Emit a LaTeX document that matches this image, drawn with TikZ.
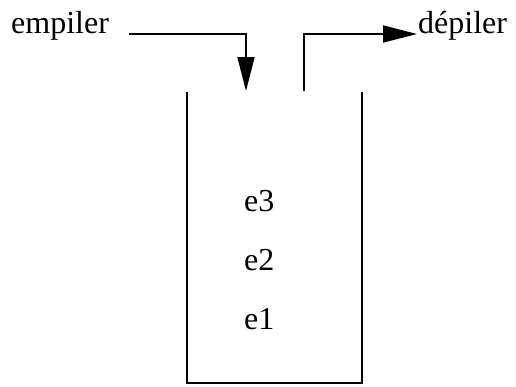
\documentclass[tikz,border=0pt]{standalone}
\usepackage{fontspec}
\setmainfont{Liberation Serif}
\usetikzlibrary{arrows.meta}
\begin{document}
\begin{tikzpicture}[x=1pt,y=-1pt,
  lbl/.style={inner sep=0pt,font=\fontsize{32}{38}\selectfont},
  conn/.style={line width=1.8pt,-{Triangle[length=34pt,width=17pt]}}]
\useasboundingbox (0,0) rectangle (516,386);
\node[lbl,anchor=base west] (emp) at (11,33) {empiler};
\node[lbl,anchor=base west] (dep) at (418,33) {dépiler};
\coordinate (inS) at (129,34);
\coordinate (inE) at (246,91);
\coordinate (outS) at (304,91);
\coordinate (outE) at (417,34);
\draw[conn] (inS) -| (inE);
\draw[conn] (outS) |- (outE);
\coordinate (tl) at (187,92);
\coordinate (bl) at (187,383);
\coordinate (br) at (362,383);
\coordinate (tr) at (362,92);
\draw[line width=1.8pt] (tl) -- (bl) -- (br) -- (tr);
\node[lbl,anchor=base west] (e3) at (244,211) {e3};
\node[lbl,anchor=base west] (e2) at (244,270) {e2};
\node[lbl,anchor=base west] (e1) at (244,329) {e1};
\end{tikzpicture}
\end{document}
